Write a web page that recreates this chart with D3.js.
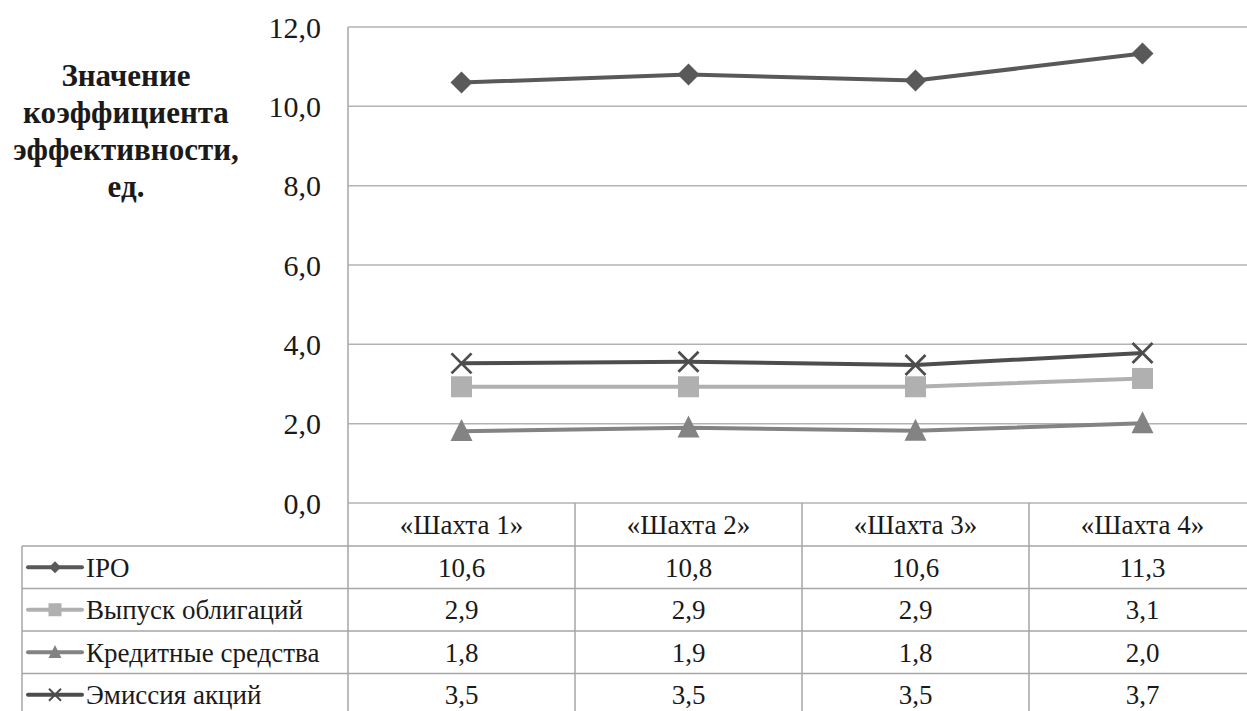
<!DOCTYPE html>
<html>
<head>
<meta charset="utf-8">
<script src="https://cdn.jsdelivr.net/npm/d3@7"></script>
<style>
  body { margin: 0; background: #fff; }
</style>
</head>
<body>
<div id="chart"></div>
<script>
const categories = ['«Шахта 1»', '«Шахта 2»', '«Шахта 3»', '«Шахта 4»'];
const seriesNames = ['IPO', 'Выпуск облигаций', 'Кредитные средства', 'Эмиссия акций'];

// values as plotted
const ipo = [10.6, 10.8, 10.65, 11.33];
const bonds = [2.93, 2.93, 2.93, 3.14];
const credit = [1.81, 1.9, 1.82, 2.01];
const shares = [3.52, 3.56, 3.48, 3.78];

// values as printed in the data table
const ipoLabels = ['10,6', '10,8', '10,6', '11,3'];
const bondsLabels = ['2,9', '2,9', '2,9', '3,1'];
const creditLabels = ['1,8', '1,9', '1,8', '2,0'];
const sharesLabels = ['3,5', '3,5', '3,5', '3,7'];

const yTicks = [0, 2, 4, 6, 8, 10, 12];
const titleLines = ['Значение', 'коэффициента', 'эффективности,', 'ед.'];

const width = 1247;
const height = 711;
const plotLeft = 348, plotRight = 1256, plotTop = 27, plotBottom = 503;
const rowH = 42.5;
const headerH = 43;
const tableLeft = 22;
const serif = '"Liberation Serif", "Times New Roman", serif';

const series = [
  { name: seriesNames[0], values: ipo, labels: ipoLabels, color: '#595959', marker: 'diamond' },
  { name: seriesNames[1], values: bonds, labels: bondsLabels, color: '#b0b0b0', marker: 'square' },
  { name: seriesNames[2], values: credit, labels: creditLabels, color: '#838383', marker: 'triangle' },
  { name: seriesNames[3], values: shares, labels: sharesLabels, color: '#4d4d4d', marker: 'cross' }
];

const fmt = v => d3.format('.1f')(v).replace('.', ',');

const x = d3.scaleBand().domain(categories).range([plotLeft, plotRight]);
const y = d3.scaleLinear().domain([0, 12]).range([plotBottom, plotTop]);

const svg = d3.create('svg')
  .attr('width', width)
  .attr('height', height)
  .style('font-family', serif);

const gridColor = '#b3b3b3';

// gridlines
svg.append('g')
  .selectAll('line')
  .data(yTicks)
  .join('line')
  .attr('x1', plotLeft).attr('x2', plotRight)
  .attr('y1', d => y(d)).attr('y2', d => y(d))
  .attr('stroke', gridColor)
  .attr('stroke-width', 1.5);

// tick labels
svg.append('g')
  .selectAll('text')
  .data(yTicks)
  .join('text')
  .attr('x', 321)
  .attr('y', d => y(d))
  .attr('dy', '0.35em')
  .attr('text-anchor', 'end')
  .style('font-family', serif)
  .style('font-size', '30px')
  .attr('fill', '#1a1a1a')
  .text(fmt);

// axis title
svg.append('g')
  .selectAll('text')
  .data(titleLines)
  .join('text')
  .attr('x', 126)
  .attr('y', (d, i) => 86 + i * 37)
  .attr('text-anchor', 'middle')
  .style('font-family', serif)
  .style('font-size', '31px')
  .style('font-weight', 'bold')
  .attr('fill', '#1a1a1a')
  .text(d => d);

// table
const tableBottom = plotBottom + headerH + rowH * series.length;
const table = svg.append('g').attr('stroke', '#a6a6a6').attr('stroke-width', 1.5);
table.append('line').attr('x1', plotLeft).attr('x2', plotLeft).attr('y1', plotTop).attr('y2', tableBottom);
table.append('line').attr('x1', tableLeft).attr('x2', tableLeft).attr('y1', plotBottom + headerH).attr('y2', tableBottom);
table.selectAll('.vdiv')
  .data(categories.slice(1))
  .join('line')
  .attr('x1', d => x(d)).attr('x2', d => x(d))
  .attr('y1', plotBottom).attr('y2', tableBottom);
table.selectAll('.hrow')
  .data(d3.range(series.length + 1))
  .join('line')
  .attr('x1', tableLeft).attr('x2', plotRight)
  .attr('y1', i => plotBottom + headerH + i * rowH)
  .attr('y2', i => plotBottom + headerH + i * rowH);

svg.append('g')
  .selectAll('text')
  .data(categories)
  .join('text')
  .attr('x', d => x(d) + x.bandwidth() / 2)
  .attr('y', plotBottom + headerH / 2)
  .attr('dy', '0.35em')
  .attr('text-anchor', 'middle')
  .style('font-family', serif)
  .style('font-size', '27px')
  .attr('fill', '#1a1a1a')
  .text(d => d);

function drawMarker(g, type, cx, cy, s, color) {
  if (type === 'diamond') {
    g.append('path')
      .attr('d', `M${cx},${cy - s}L${cx + s},${cy}L${cx},${cy + s}L${cx - s},${cy}Z`)
      .attr('fill', color);
  } else if (type === 'square') {
    g.append('rect')
      .attr('x', cx - s).attr('y', cy - s)
      .attr('width', 2 * s).attr('height', 2 * s)
      .attr('fill', color);
  } else if (type === 'triangle') {
    g.append('path')
      .attr('d', `M${cx},${cy - s * 1.1}L${cx + s},${cy + s * 0.9}L${cx - s},${cy + s * 0.9}Z`)
      .attr('fill', color);
  } else {
    g.append('path')
      .attr('d', `M${cx - s},${cy - s}L${cx + s},${cy + s}M${cx + s},${cy - s}L${cx - s},${cy + s}`)
      .attr('stroke', color)
      .attr('stroke-width', s > 8 ? 2.8 : 2)
      .attr('fill', 'none');
  }
}

const line = d3.line()
  .x((d, i) => x(categories[i]) + x.bandwidth() / 2)
  .y(d => y(d));

const markerSize = { diamond: 11, square: 10.5, triangle: 11, cross: 10 };
const legendSize = { diamond: 6, square: 6.5, triangle: 6.5, cross: 6 };

series.forEach((s, si) => {
  const g = svg.append('g');
  g.append('path')
    .attr('d', line(s.values))
    .attr('fill', 'none')
    .attr('stroke', s.color)
    .attr('stroke-width', 4)
    .attr('stroke-linejoin', 'round');
  s.values.forEach((v, i) => {
    drawMarker(g, s.marker, x(categories[i]) + x.bandwidth() / 2, y(v), markerSize[s.marker], s.color);
  });

  // table row
  const rowY = plotBottom + headerH + si * rowH + rowH / 2;
  const lg = svg.append('g');
  lg.append('line')
    .attr('x1', 28).attr('x2', 82)
    .attr('y1', rowY).attr('y2', rowY)
    .attr('stroke', s.color)
    .attr('stroke-width', 4)
    .attr('stroke-linecap', 'round');
  drawMarker(lg, s.marker, 55, rowY, legendSize[s.marker], s.color);
  lg.append('text')
    .attr('x', 86)
    .attr('y', rowY)
    .attr('dy', '0.35em')
    .style('font-family', serif)
    .style('font-size', '27px')
    .attr('fill', '#1a1a1a')
    .text(s.name);
  lg.selectAll('.val')
    .data(s.labels)
    .join('text')
    .attr('x', (d, i) => x(categories[i]) + x.bandwidth() / 2)
    .attr('y', rowY)
    .attr('dy', '0.35em')
    .attr('text-anchor', 'middle')
    .style('font-family', serif)
    .style('font-size', '27px')
    .attr('fill', '#1a1a1a')
    .text(d => d);
});

document.getElementById('chart').appendChild(svg.node());
</script>
</body>
</html>
